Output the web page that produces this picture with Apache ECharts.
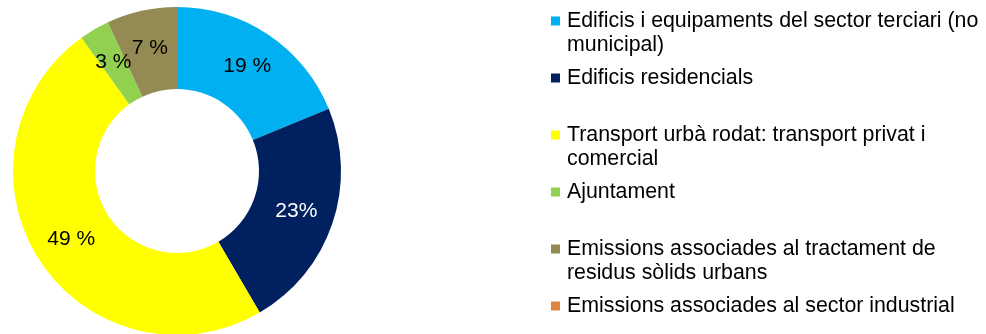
<!DOCTYPE html>
<html>
<head>
<meta charset="utf-8">
<script src="https://cdn.jsdelivr.net/npm/echarts@6/dist/echarts.min.js"></script>
<style>
  html, body { margin: 0; padding: 0; background: #fff; }
  #chart { width: 986px; height: 334px; }
</style>
</head>
<body>
<div id="chart"></div>
<script>
// Emissions by sector (%)
const categories = [
  'Edificis i equipaments del sector terciari (no\nmunicipal)',
  'Edificis residencials',
  'Transport urbà rodat: transport privat i\ncomercial',
  'Ajuntament',
  'Emissions associades al tractament de\nresidus sòlids urbans',
  'Emissions associades al sector industrial'
];
const values = [19, 23, 49, 3, 7, 0];
const colors = ['#00B0F0', '#002060', '#FFFF00', '#92D050', '#948A54', '#E0853F'];
const labelColors = ['#000', '#fff', '#000', '#000', '#000', '#000'];
// value/percent separator used in each slice label
const labelSeparators = [' ', '', ' ', ' ', ' ', ' '];

const FONT = '"Liberation Sans", Arial, sans-serif';
const LINE_H = 24;

const chart = echarts.init(document.getElementById('chart'), null, { renderer: 'canvas' });
chart.setOption({
  animation: false,
  legend: {
    data: categories,
    orient: 'vertical',
    left: 551,
    top: -15,
    padding: 0,
    itemWidth: 9,
    itemHeight: 9,
    itemGap: 9,
    selectedMode: false,
    icon: 'rect',
    // wrapped entries get an empty first line so the marker sits beside the first text line
    formatter: name => (name.indexOf('\n') >= 0 ? '\n' + name : name),
    textStyle: {
      fontFamily: FONT,
      fontSize: 21.33,
      color: '#000',
      lineHeight: LINE_H,
      padding: [0, 0, 0, 2]
    }
  },
  series: [{
    type: 'pie',
    center: [177, 171],
    radius: [82, 164],
    startAngle: 90,
    clockwise: true,
    avoidLabelOverlap: false,
    silent: true,
    itemStyle: { borderWidth: 0 },
    label: {
      show: true,
      position: 'inside',
      fontFamily: FONT,
      fontSize: 21
    },
    labelLine: { show: false },
    data: categories.map((name, i) => ({
      name,
      value: values[i],
      itemStyle: { color: colors[i] },
      label: {
        show: values[i] > 0,
        color: labelColors[i],
        formatter: values[i] + labelSeparators[i] + '%'
      }
    }))
  }]
});
</script>
</body>
</html>
